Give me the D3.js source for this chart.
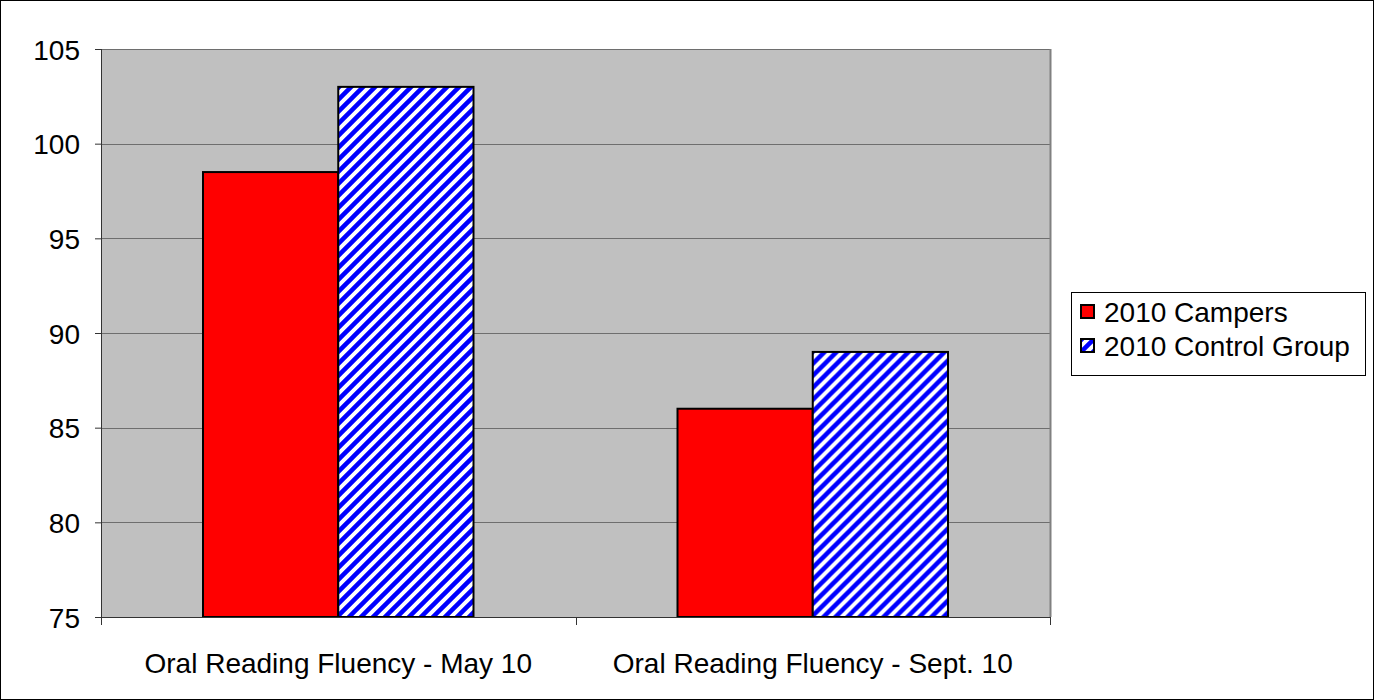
<!DOCTYPE html>
<html>
<head>
<meta charset="utf-8">
<script src="https://cdn.jsdelivr.net/npm/d3@7"></script>
<style>
    body { margin: 0; background: #fff; }
    text { font-family: "Liberation Sans", Arial, sans-serif; fill: #000; }
</style>
</head>
<body>
<div id="chart"></div>
<script>
var categories = ["Oral Reading Fluency - May 10", "Oral Reading Fluency - Sept. 10"];
var seriesNames = ["2010 Campers", "2010 Control Group"];
var campers = [98.5, 86];
var controlGroup = [103, 89];
var yTicks = [75, 80, 85, 90, 95, 100, 105];

var width = 1374, height = 700;
var margin = {top: 49, right: 324, bottom: 83, left: 101};
var plotW = width - margin.left - margin.right,
    plotH = height - margin.top - margin.bottom;
var fontSize = "28px";

var svg = d3.select("#chart").append("svg")
    .attr("width", width)
    .attr("height", height);

// outer frame
svg.append("rect")
    .attr("x", 0.5).attr("y", 0.5)
    .attr("width", width - 1).attr("height", height - 1)
    .style("fill", "#fff").style("stroke", "#000");

var defs = svg.append("defs");
var pat = defs.append("pattern")
    .attr("id", "hatch")
    .attr("patternUnits", "userSpaceOnUse")
    .attr("width", 12).attr("height", 12);
pat.append("rect").attr("width", 12).attr("height", 12).style("fill", "#fff");
pat.append("path")
    .attr("d", "M-3,3 L3,-3 M0,12 L12,0 M9,15 L15,9")
    .style("stroke", "#0000ff").style("stroke-width", 4.5);

var data = categories.map(function(c, i) {
    return {cat: c, values: [campers[i], controlGroup[i]]};
});

var x = d3.scaleBand().domain(categories).range([0, plotW]);
var x1 = d3.scaleBand().domain(seriesNames).range([102, x.bandwidth() - 102]);
var y = d3.scaleLinear().domain([75, 105]).range([plotH, 0]);

var g = svg.append("g").attr("transform", "translate(" + margin.left + "," + margin.top + ")");

g.append("rect")
    .attr("width", plotW).attr("height", plotH)
    .style("fill", "#c0c0c0");

g.selectAll(".grid")
    .data(yTicks.slice(1))
    .enter().append("line")
        .attr("x1", 0).attr("x2", plotW)
        .attr("y1", function(d) { return Math.round(y(d)) + 0.5; })
        .attr("y2", function(d) { return Math.round(y(d)) + 0.5; })
        .style("stroke", "#6e6e6e");

// right border of plot area
g.append("line")
    .attr("x1", plotW + 0.5).attr("x2", plotW + 0.5)
    .attr("y1", 0).attr("y2", plotH)
    .style("stroke", "#808080").style("stroke-width", 2);

var colors = ["#ff0000", "url(#hatch)"];

var groups = g.selectAll(".group")
    .data(data)
    .enter().append("g")
        .attr("transform", function(d) { return "translate(" + x(d.cat) + ",0)"; });

groups.selectAll("rect")
    .data(function(d) { return d.values.map(function(v, i) { return {name: seriesNames[i], value: v, idx: i}; }); })
    .enter().append("rect")
        .attr("x", function(d) { return x1(d.name); })
        .attr("y", function(d) { return y(d.value); })
        .attr("width", x1.bandwidth())
        .attr("height", function(d) { return plotH - y(d.value); })
        .style("fill", function(d) { return colors[d.idx]; })
        .style("stroke", "#000")
        .style("stroke-width", 2);

var yAxis = g.append("g")
    .call(d3.axisLeft(y).tickValues(yTicks).tickSize(6).tickPadding(15).tickFormat(d3.format("d")));
yAxis.select(".domain").style("stroke", "#333").attr("d", "M0.5," + plotH + "V0");
yAxis.selectAll("line").style("stroke", "#333");
yAxis.selectAll("text")
    .attr("x", -21)
    .attr("dy", "0.36em")
    .style("font-size", fontSize)
    .style("font-family", "Liberation Sans, Arial, sans-serif");

var xAxis = g.append("g")
    .attr("transform", "translate(0," + plotH + ")");
xAxis.append("line")
    .attr("x1", 0).attr("x2", plotW + 1)
    .attr("y1", 0.5).attr("y2", 0.5)
    .style("stroke", "#333");
xAxis.selectAll(".tk")
    .data([0].concat(categories.map(function(c) { return x(c) + x.bandwidth(); })))
    .enter().append("line")
        .attr("x1", function(d) { return Math.round(d) + 0.5; })
        .attr("x2", function(d) { return Math.round(d) + 0.5; })
        .attr("y1", 0).attr("y2", 8)
        .style("stroke", "#333");
xAxis.selectAll(".lbl")
    .data(categories)
    .enter().append("text")
        .attr("x", function(d) { return x(d) + x.bandwidth() / 2; })
        .attr("y", 56)
        .attr("text-anchor", "middle")
        .style("font-size", fontSize)
        .text(function(d) { return d; });

// legend
var legend = svg.append("g").attr("transform", "translate(1071,292)");
legend.append("rect")
    .attr("x", 0.5).attr("y", 0.5)
    .attr("width", 294).attr("height", 83)
    .style("fill", "#fff").style("stroke", "#000");

var items = legend.selectAll(".item")
    .data(seriesNames)
    .enter().append("g")
        .attr("transform", function(d, i) { return "translate(0," + (i * 34) + ")"; });
items.append("rect")
    .attr("x", 10).attr("y", 13)
    .attr("width", 13).attr("height", 13)
    .style("fill", function(d, i) { return colors[i]; })
    .style("stroke", "#000")
    .style("stroke-width", 2);
items.append("text")
    .attr("x", 33).attr("y", 30)
    .style("font-size", fontSize)
    .text(function(d) { return d; });
</script>
</body>
</html>
